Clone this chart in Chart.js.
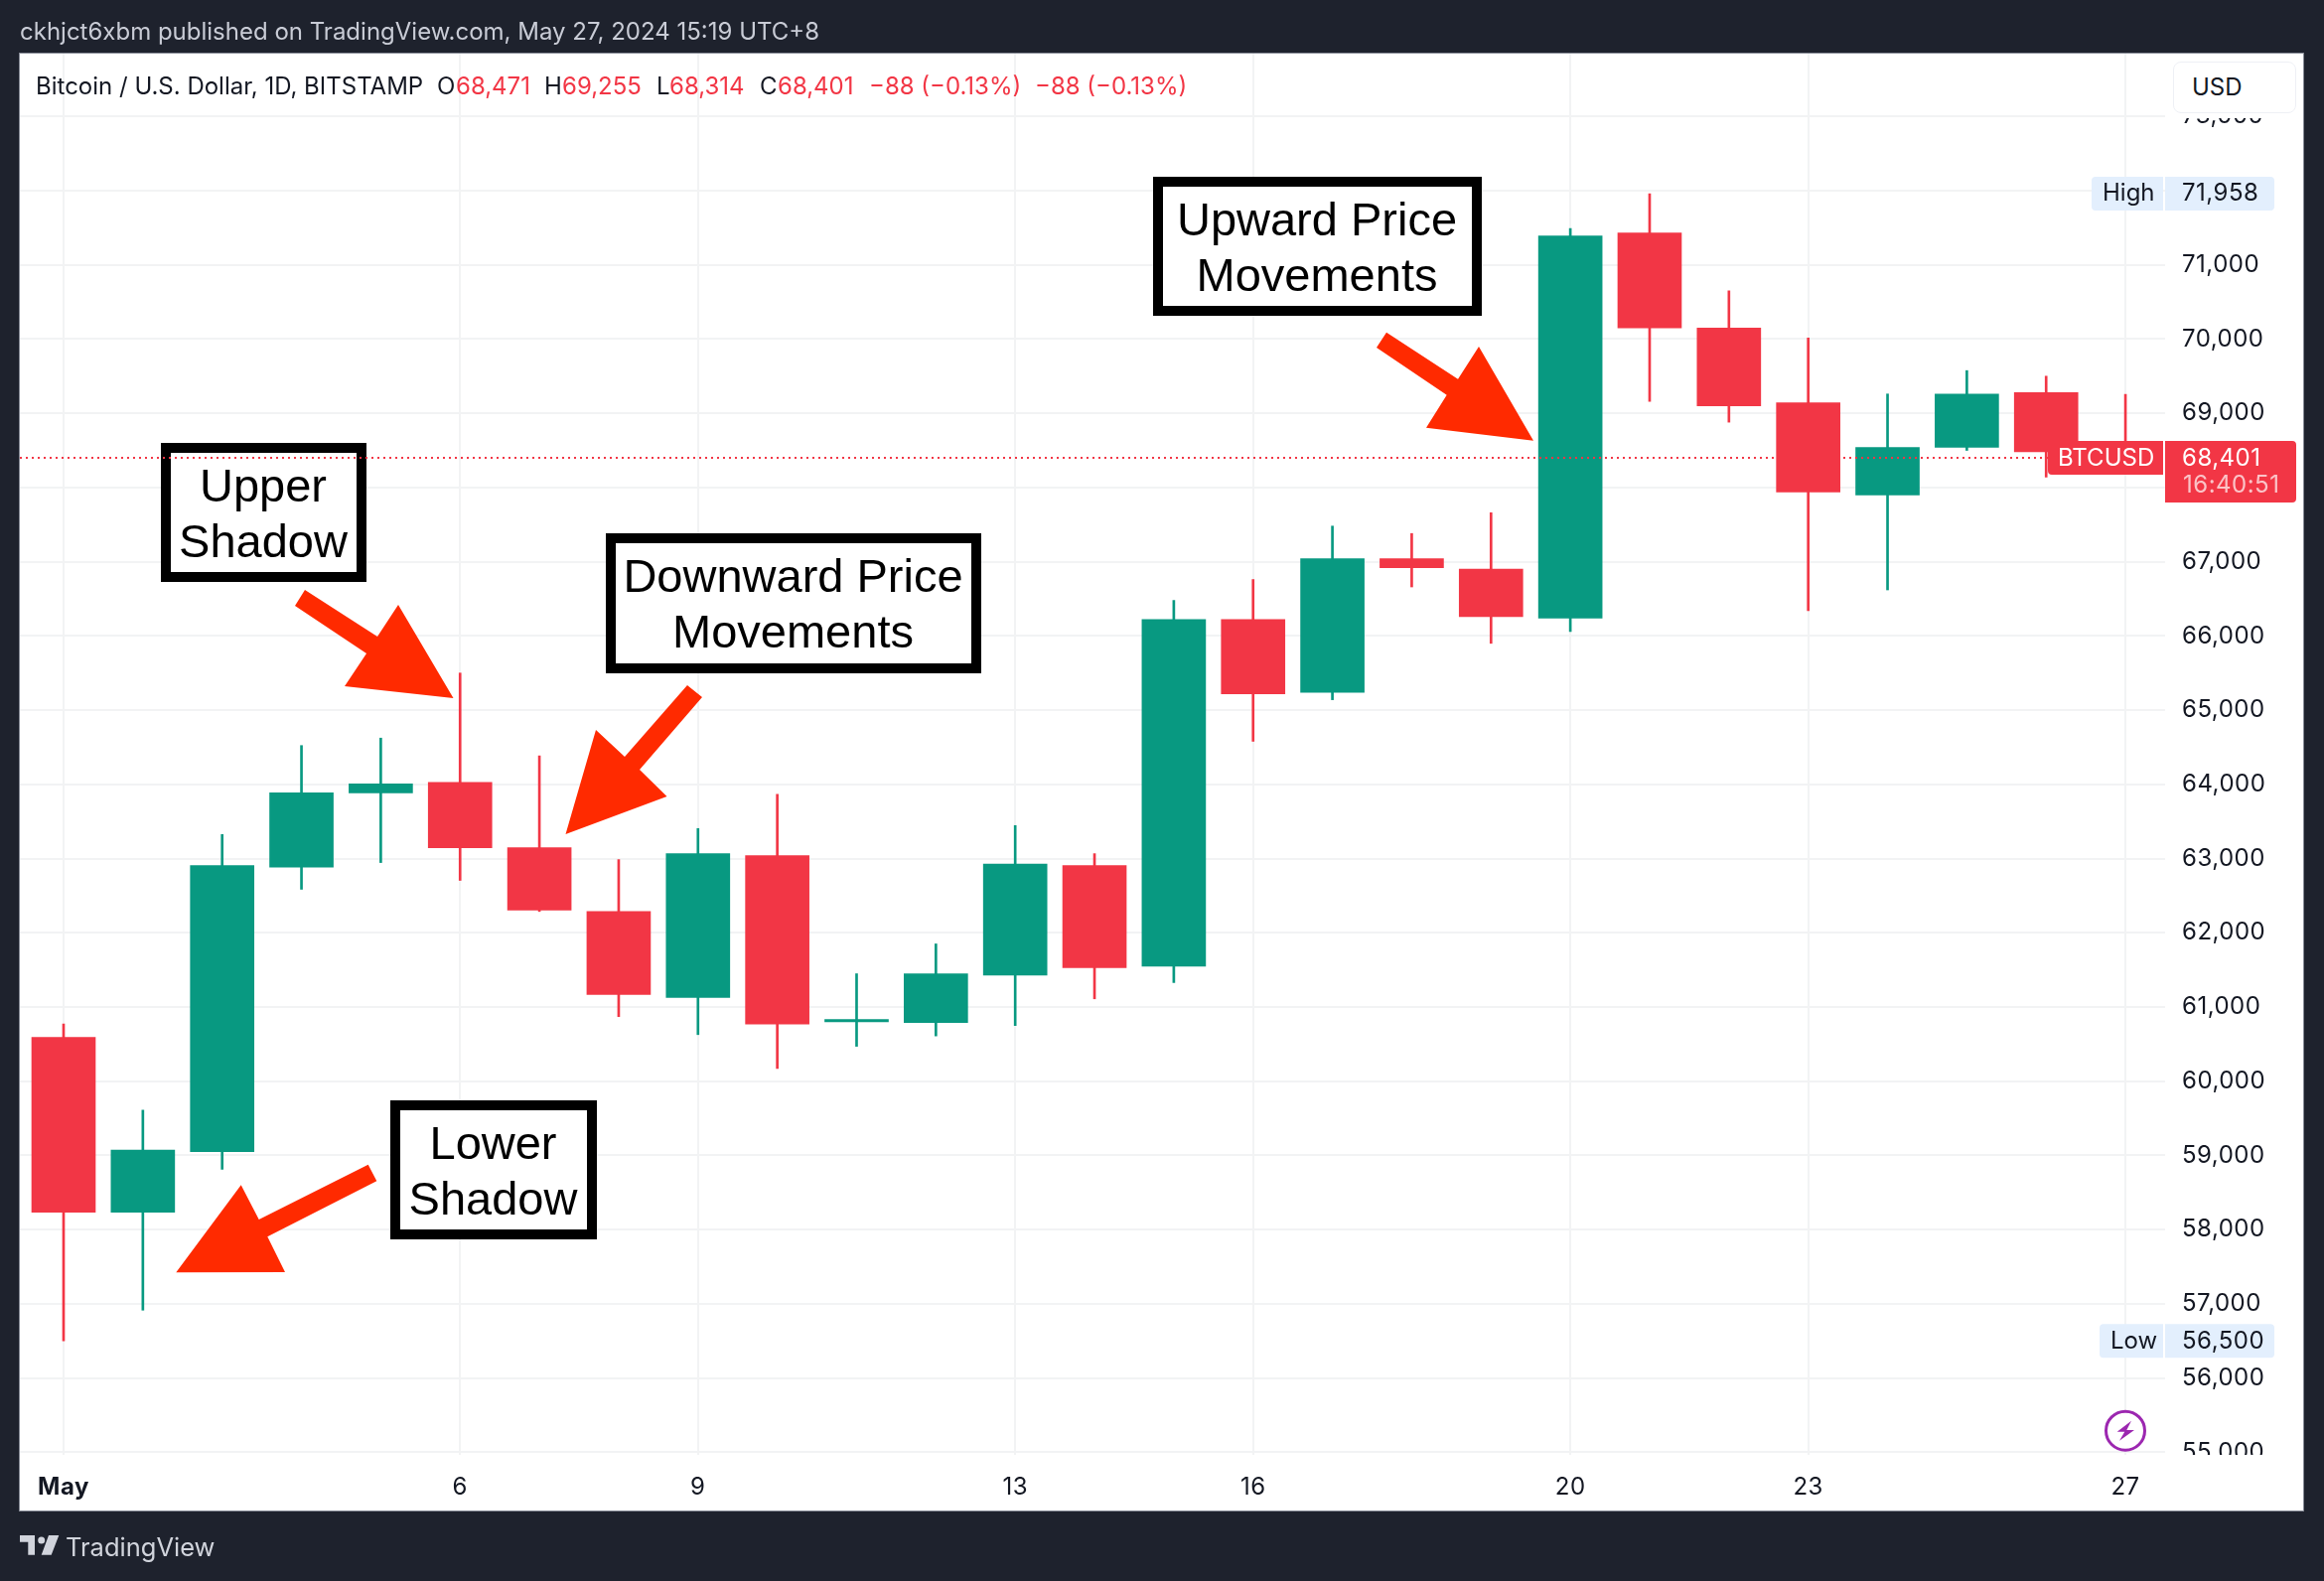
<!DOCTYPE html>
<html>
<head>
<meta charset="utf-8">
<title>BTCUSD</title>
<script src="https://cdn.jsdelivr.net/npm/chart.js@4/dist/chart.umd.min.js"></script>
<style>
  html, body { margin: 0; padding: 0; background: #1e222d; }
  body { position: relative; width: 2340px; height: 1592px; overflow: hidden; font-family: Inter, sans-serif; }
  #panel { position: absolute; left: 20px; top: 54px; width: 2299px; height: 1467px; background: #fff; box-shadow: 0 0 0 1px #878b96; }
  canvas { position: absolute; left: 0; top: 0; }
  .txt { position: absolute; white-space: nowrap; font-size: 24px; line-height: 30px; color: #131722; }
  .red { color: #f23645; }
  #published { left: 20px; top: 17px; color: #c9ccd6; }
  #usd { position: absolute; left: 2188px; top: 62px; width: 122px; height: 50px; border: 1px solid #eef0f5; border-radius: 8px; background: #fff; }
  #footer { left: 66px; top: 1541px; color: #d1d4dc; font-size: 25.5px; line-height: 34px; }
</style>
</head>
<body>
<div id="panel"></div>
<canvas id="chart" width="2340" height="1592"></canvas>
<div class="txt" id="published">ckhjct6xbm published on TradingView.com, May 27, 2024 15:19 UTC+8</div>
<div class="txt" style="left:36px;top:72px">Bitcoin / U.S. Dollar, 1D, BITSTAMP</div>
<div class="txt" style="left:440px;top:72px">O</div>
<div class="txt red" style="left:459px;top:72px">68,471</div>
<div class="txt" style="left:548px;top:72px">H</div>
<div class="txt red" style="left:566px;top:72px">69,255</div>
<div class="txt" style="left:661px;top:72px">L</div>
<div class="txt red" style="left:674px;top:72px">68,314</div>
<div class="txt" style="left:765px;top:72px">C</div>
<div class="txt red" style="left:783px;top:72px">68,401</div>
<div class="txt red" style="left:875px;top:72px">−88 (−0.13%)</div>
<div class="txt red" style="left:1042px;top:72px">−88 (−0.13%)</div>
<div id="usd"></div>
<div class="txt" style="left:2207px;top:73px">USD</div>
<svg style="position:absolute;left:0;top:0" width="2340" height="1592">
  <path d="M20 1546H35V1565.7H28.3V1552.7H20Z M59.3 1546H49L41.7 1565.7H51.7Z" fill="#d1d4dc"/>
  <circle cx="41.7" cy="1551" r="3.5" fill="#d1d4dc"/>
</svg>
<div class="txt" id="footer">TradingView</div>

<script>
// candles, one per day of May 2024
const days   = [1, 2, 3, 4, 5, 6, 7, 8, 9, 10, 11, 12, 13, 14, 15, 16, 17, 18, 19, 20, 21, 22, 23, 24, 25, 26, 27];
const opens  = [60590, 58234, 59050, 62886, 63885, 64025, 63146, 62287, 61128, 63040, 60800, 60790, 61430, 62905, 61550, 66220, 65240, 67040, 66900, 66240, 71430, 70150, 69140, 67900, 68540, 69280, 68471];
const highs  = [60770, 59610, 63325, 64523, 64623, 65500, 64384, 62986, 63405, 63865, 61448, 61850, 63445, 63066, 66480, 66760, 67480, 67380, 67660, 71490, 71958, 70650, 70015, 69260, 69575, 69500, 69255];
const lows   = [56500, 56915, 58812, 62586, 62946, 62706, 62287, 60870, 60628, 60170, 60470, 60610, 60750, 61110, 61330, 64580, 65140, 66660, 65900, 66060, 69160, 68880, 66340, 66620, 68500, 68140, 68314];
const closes = [58234, 59072, 62906, 63885, 64005, 63146, 62307, 61168, 63066, 60770, 60830, 61448, 62925, 61530, 66220, 65220, 67040, 66920, 66260, 71390, 70150, 69100, 67940, 68540, 69260, 68480, 68401];

// axis ticks
const priceTicks = [55000, 56000, 57000, 58000, 59000, 60000, 61000, 62000, 63000, 64000, 65000, 66000, 67000, 68000, 69000, 70000, 71000, 72000, 73000];
const hiddenPriceTicks = [68000, 72000];
const dayTicks = [1, 6, 9, 13, 16, 20, 23, 27];
const dayTickLabels = ['May', '6', '9', '13', '16', '20', '23', '27'];

const lastPrice = 68401;
const highPrice = 71958;
const lowPrice = 56500;

const UP = '#089981';
const DOWN = '#f23645';
const ARROW = '#ff2a00';
const GRID = '#f2f3f4';
const FONT = 'Inter';

// callout boxes and their pointers
const callouts = [
    { x: 162, y: 446, w: 207, h: 140, lines: ['Upper', 'Shadow'],
      arrow: [[307, 594], [380, 641], [401, 609], [456.5, 703], [347, 691], [369, 658], [297, 610]] },
    { x: 610, y: 537, w: 378, h: 141, lines: ['Downward Price', 'Movements'],
      arrow: [[692, 690], [707, 702], [644, 775], [671.5, 802], [569.5, 840], [600, 735], [629, 762]] },
    { x: 1161, y: 178, w: 331, h: 140, lines: ['Upward Price', 'Movements'],
      arrow: [[1396, 334.7], [1468, 381.7], [1489, 349], [1544, 443.7], [1436, 430.7], [1456.7, 397.7], [1386, 350]] },
    { x: 393, y: 1108, w: 208, h: 140, lines: ['Lower', 'Shadow'],
      arrow: [[370.7, 1172.7], [379.3, 1189.3], [269.3, 1245.3], [287, 1281], [177.3, 1281.3], [242.7, 1193.3], [260.7, 1228]] }
];

function drawCallouts(ctx) {
    callouts.forEach(c => {
        ctx.fillStyle = '#000';
        ctx.fillRect(c.x, c.y, c.w, c.h);
        ctx.fillStyle = '#fff';
        ctx.fillRect(c.x + 10, c.y + 10, c.w - 20, c.h - 20);
        ctx.fillStyle = '#000';
        ctx.font = '47px "Liberation Sans"';
        ctx.textAlign = 'center';
        ctx.textBaseline = 'alphabetic';
        c.lines.forEach((line, i) => {
            ctx.fillText(line, c.x + c.w / 2 - 0.5, c.y + 58.5 + i * 56);
        });
        ctx.fillStyle = ARROW;
        ctx.beginPath();
        c.arrow.forEach((p, i) => i ? ctx.lineTo(p[0], p[1]) : ctx.moveTo(p[0], p[1]));
        ctx.closePath();
        ctx.fill();
    });
}

function axisLabel(ctx, text, x, y, color) {
    ctx.fillStyle = color;
    ctx.font = '24px ' + FONT;
    ctx.textAlign = 'left';
    ctx.textBaseline = 'middle';
    ctx.fillText(text, x, y);
}

// everything that sits over the candles
const overlayPlugin = {
    id: 'overlay',
    beforeDraw(chart) {
        // the price scale text runs a little wider than plain Inter
        chart.ctx.letterSpacing = '0.5px';
    },
    afterDraw(chart) {
        const ctx = chart.ctx;
        const yScale = chart.scales.y;
        ctx.save();

        // axis labels get clipped at both ends of the pane
        ctx.fillStyle = '#fff';
        ctx.fillRect(2181, 54, 138, 65);
        ctx.fillRect(2181, 1465, 138, 56);

        ctx.letterSpacing = '0px';
        drawCallouts(ctx);

        const lastY = yScale.getPixelForValue(lastPrice);
        ctx.strokeStyle = DOWN;
        ctx.lineWidth = 2;
        ctx.setLineDash([2, 4]);
        ctx.beginPath();
        ctx.moveTo(20, lastY);
        ctx.lineTo(2062, lastY);
        ctx.stroke();
        ctx.setLineDash([]);

        // high / low tags
        const tagBlue = '#e3effd';
        const highY = yScale.getPixelForValue(highPrice);
        const lowY = yScale.getPixelForValue(lowPrice);
        ctx.fillStyle = tagBlue;
        ctx.beginPath();
        ctx.roundRect(2106, highY - 17, 72, 34, [4, 0, 0, 4]);
        ctx.roundRect(2180, highY - 17, 110, 34, [0, 4, 4, 0]);
        ctx.roundRect(2114, lowY - 17, 64, 34, [4, 0, 0, 4]);
        ctx.roundRect(2180, lowY - 17, 110, 34, [0, 4, 4, 0]);
        ctx.fill();
        axisLabel(ctx, 'High', 2117, highY, '#131722');
        axisLabel(ctx, 'Low', 2125, lowY, '#131722');
        ctx.letterSpacing = '0.5px';
        axisLabel(ctx, '71,958', 2197, highY, '#131722');
        axisLabel(ctx, '56,500', 2197, lowY, '#131722');

        // last price tag
        ctx.fillStyle = DOWN;
        ctx.beginPath();
        ctx.roundRect(2062, lastY - 17, 116, 34, [0, 0, 0, 4]);
        ctx.roundRect(2180, lastY - 17, 132, 62, [0, 4, 4, 0]);
        ctx.fill();
        axisLabel(ctx, '68,401', 2197, lastY + 1, '#fff');
        axisLabel(ctx, '16:40:51', 2198, lastY + 28, 'rgba(255,255,255,0.7)');
        ctx.letterSpacing = '0px';
        axisLabel(ctx, 'BTCUSD', 2072, lastY + 1, '#fff');

        // lightning badge
        ctx.strokeStyle = '#9c27b0';
        ctx.lineWidth = 3;
        ctx.fillStyle = '#fff';
        ctx.beginPath();
        ctx.arc(2140, 1440.7, 19.5, 0, Math.PI * 2);
        ctx.fill();
        ctx.stroke();
        ctx.fillStyle = '#9c27b0';
        ctx.beginPath();
        ctx.moveTo(2146, 1430.7);
        ctx.lineTo(2131.7, 1441.7);
        ctx.lineTo(2139.3, 1441.7);
        ctx.lineTo(2134, 1450.7);
        ctx.lineTo(2149, 1440);
        ctx.lineTo(2141.3, 1440);
        ctx.closePath();
        ctx.fill();
        ctx.restore();
    }
};

const candleColors = days.map((d, i) => (closes[i] >= opens[i] ? UP : DOWN));

new Chart(document.getElementById('chart').getContext('2d'), {
    type: 'bar',
    data: {
        datasets: [
            {
                label: 'Body',
                data: days.map((d, i) => ({ x: d, y: [opens[i], closes[i]] })),
                backgroundColor: candleColors,
                barThickness: 64,
                grouped: false,
                order: 0
            },
            {
                label: 'Wick',
                data: days.map((d, i) => ({ x: d, y: [lows[i], highs[i]] })),
                backgroundColor: candleColors,
                barThickness: 2,
                grouped: false,
                order: 1
            }
        ]
    },
    options: {
        responsive: false,
        animation: false,
        devicePixelRatio: 1,
        layout: { padding: { left: 20, top: 54, right: 0, bottom: 0 } },
        plugins: { legend: { display: false }, tooltip: { enabled: false } },
        scales: {
            x: {
                type: 'linear',
                offset: false,
                min: 0.449,
                max: 27.5,
                afterBuildTicks(scale) { scale.ticks = dayTicks.map(value => ({ value })); },
                afterFit(scale) { scale.height = 127; },
                border: { display: false },
                grid: { color: GRID, lineWidth: 2, drawTicks: false, offset: false },
                ticks: {
                    autoSkip: false,
                    maxRotation: 0,
                    padding: 18,
                    color: '#131722',
                    font: c => ({ family: FONT, size: 24, weight: c.tick && c.tick.value === 1 ? 'bold' : 'normal' }),
                    callback: value => dayTickLabels[dayTicks.indexOf(value)]
                }
            },
            y: {
                position: 'right',
                min: 54965,
                max: 73846,
                afterBuildTicks(scale) { scale.ticks = priceTicks.map(value => ({ value })); },
                afterFit(scale) { scale.width = 160; },
                border: { display: false },
                grid: { color: GRID, lineWidth: 2, drawTicks: false },
                ticks: {
                    autoSkip: false,
                    padding: 17,
                    color: '#131722',
                    font: { family: FONT, size: 24 },
                    callback: value => (hiddenPriceTicks.includes(value) ? '' : value.toLocaleString('en-US'))
                }
            }
        }
    },
    plugins: [overlayPlugin]
});
</script>
</body>
</html>
